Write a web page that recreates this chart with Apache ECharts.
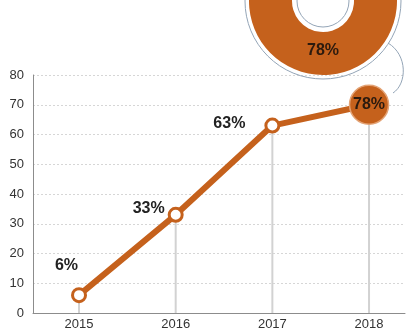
<!DOCTYPE html>
<html>
<head>
<meta charset="utf-8">
<script src="https://cdn.jsdelivr.net/npm/echarts@6/dist/echarts.min.js"></script>
<style>
  html, body { margin: 0; padding: 0; background: #fff; }
  #chart { width: 410px; height: 334px; }
</style>
</head>
<body>
<div id="chart"></div>
<script>
// data
const years = [2015, 2016, 2017, 2018];
const values = [6, 33, 63, 70];            // plotted heights as drawn
const valueLabels = ['6%', '33%', '63%', '78%'];
const donutShare = [78, 22];
const donutLabel = '78%';

const ORANGE = '#c5611c';
const TEXT = '#222';
const FONT = '"Liberation Sans", Arial, sans-serif';

// label placement for the hollow points (last point has its label inside)
const labelOffsets = [[10, -30], [0, -6], [-16, -2]];

const chart = echarts.init(document.getElementById('chart'), null, { renderer: 'canvas' });

const lineData = years.map((y, i) => {
  const last = i === years.length - 1;
  if (last) {
    return {
      value: [y, values[i]],
      symbolSize: 39,
      itemStyle: { color: ORANGE, borderColor: '#e3a274', borderWidth: 1.5 },
      label: { position: 'inside', color: '#2b1a0e' },
    };
  }
  return { value: [y, values[i]], label: { position: 'left', distance: 3, offset: labelOffsets[i] } };
});

chart.setOption({
  animation: false,
  grid: { left: 33, right: 5, top: 75, bottom: 21 },
  xAxis: {
    type: 'value',
    min: 2014.524,
    max: 2018.372,
    axisLine: { show: true, lineStyle: { color: '#8c8c8c', width: 1 } },
    axisTick: { show: false },
    splitLine: { show: false },
    axisLabel: {
      customValues: years,
      color: '#333', fontSize: 13, fontFamily: FONT, margin: 5,
      formatter: v => String(v),
    },
  },
  yAxis: {
    type: 'value',
    min: 0, max: 80, interval: 10,
    axisLine: { show: true, lineStyle: { color: '#8c8c8c', width: 1 } },
    axisTick: { show: false },
    axisLabel: { color: '#333', fontSize: 13, fontFamily: FONT, margin: 9 },
    splitLine: { lineStyle: { color: '#d6d6d6', type: [2, 2], width: 1 } },
  },
  series: [
    {
      // thin drop lines from axis to each point
      type: 'bar',
      barWidth: 2,
      silent: true,
      z: 1,
      itemStyle: { color: '#d2d2d2' },
      data: years.map((y, i) => [y, values[i]]),
    },
    {
      type: 'line',
      z: 3,
      symbol: 'circle',
      symbolSize: 13,
      lineStyle: { color: ORANGE, width: 6 },
      itemStyle: { color: '#fff', borderColor: ORANGE, borderWidth: 3 },
      label: {
        show: true,
        formatter: p => valueLabels[p.dataIndex],
        color: TEXT, fontSize: 16, fontWeight: 'bold', fontFamily: FONT,
      },
      data: lineData,
    },
    {
      type: 'pie',
      z: 5,
      center: [323, 1],
      radius: [31, 74],
      startAngle: 50.4,
      clockwise: true,
      silent: true,
      labelLine: { show: false },
      data: [
        {
          value: donutShare[0], name: 'share',
          itemStyle: { color: ORANGE },
          label: {
            show: true, position: 'inside',
            formatter: '{a|' + donutLabel + '}\n{b| }',
            rich: {
              a: { color: '#2b1a0e', fontSize: 16, fontWeight: 'bold', fontFamily: FONT, lineHeight: 18 },
              b: { fontSize: 1, lineHeight: 12 },
            },
          },
        },
        { value: donutShare[1], name: 'rest', itemStyle: { color: '#e8c6ab' }, label: { show: false } },
      ],
    },
  ],
  graphic: [
    { type: 'circle', z: 10, silent: true, shape: { cx: 323, cy: 1, r: 78 },
      style: { fill: 'none', stroke: '#93a4b6', lineWidth: 1 } },
    { type: 'circle', z: 10, silent: true, shape: { cx: 323, cy: 1, r: 26 },
      style: { fill: 'none', stroke: '#93a4b6', lineWidth: 1 } },
    { type: 'bezierCurve', z: 10, silent: true,
      shape: { x1: 388, y1: 43, cpx1: 408, cpy1: 55, cpx2: 407, cpy2: 84, x2: 393, y2: 93 },
      style: { fill: 'none', stroke: '#93a4b6', lineWidth: 1 } },
  ],
});
</script>
</body>
</html>
